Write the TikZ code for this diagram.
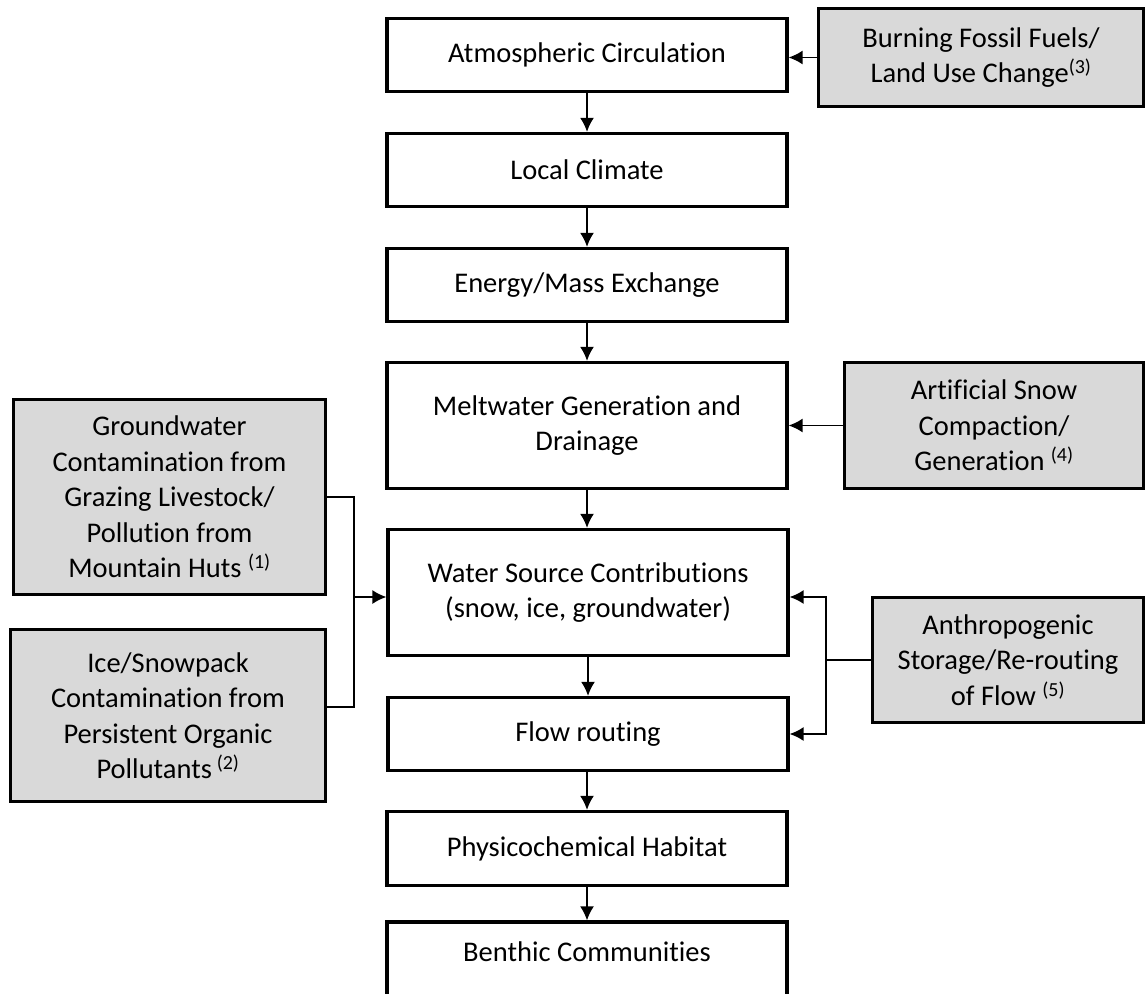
\documentclass[tikz,border=0pt]{standalone}
\usepackage{fontspec}
\setmainfont{Carlito}[Ligatures=NoCommon]
\usetikzlibrary{arrows.meta}

\begin{document}
\begin{tikzpicture}[x=1pt,y=-1pt,>={Latex[length=14pt,width=14pt]}]

	\tikzset{
	  box/.style={
		draw,
		line width=3.2pt,
		fill=white,
		align=center,
		inner sep=0pt,
		minimum width=400pt,
		minimum height=73pt,
		font=\fontsize{28.5}{35.5}\selectfont,
	  },
	  greybox/.style={
		box,
		fill=gray!30,
	  },
	  flowline/.style={line width=2pt,->},
	  sideline/.style={line width=1.6pt},
	}
	\useasboundingbox (0,0) rectangle (1147,993);
	\clip (0,0) rectangle (1147,993);
	\node[box] (atm) at (587,55) {Atmospheric Circulation};
	\node[box] (clim) at (587,170) {Local Climate};
	\node[box] (energy) at (587,285) {Energy/Mass Exchange};
	\node[box,minimum height=126pt] (melt) at (587,425.5) {Meltwater Generation and\\Drainage};
	\node[box,minimum height=126pt] (wsrc) at (588,592.5) {Water Source Contributions\\(snow, ice, groundwater)};
	\node[box] (flow) at (588,734) {Flow routing};
	\node[box,minimum height=74pt] (phys) at (587,848.5) {Physicochemical Habitat};
	\node[box,minimum height=76pt,text depth=16pt] (benth) at (587,960) {Benthic Communities};
	\node[greybox,minimum width=325pt,minimum height=98pt] (burn) at (981,57.5) {Burning Fossil Fuels/\\Land Use Change\textsuperscript{(3)}};
	\node[greybox,minimum width=299pt,minimum height=126pt] (art) at (994,425.5) {Artificial Snow\\Compaction/\\Generation \textsuperscript{(4)}};
	\node[greybox,minimum width=271pt,minimum height=125pt] (anth) at (1008,660) {Anthropogenic\\Storage/Re-routing\\of Flow \textsuperscript{(5)}};
	\node[greybox,minimum width=312pt,minimum height=195pt] (gw) at (169.5,497) {Groundwater\\Contamination from\\Grazing Livestock/\\Pollution from\\Mountain Huts \textsuperscript{(1)}};
	\node[greybox,minimum width=315pt,minimum height=172pt] (ice) at (168,715.5) {Ice/Snowpack\\Contamination from\\Persistent Organic\\Pollutants\,\textsuperscript{(2)}};
	\coordinate (gwjoin) at (354,597);
	\coordinate (anjoin) at (826,660);
	\draw[flowline] (atm) -- (clim);
	\draw[flowline] (clim) -- (energy);
	\draw[flowline] (energy) -- (melt);
	\draw[flowline] (melt) -- (melt.south |- wsrc.north);
	\draw[flowline] (wsrc) -- (flow);
	\draw[flowline] (flow.south -| phys) -- (phys);
	\draw[flowline] (phys) -- (benth);
	\draw[sideline,->] (burn.west) -- (burn.west -| atm.east);
	\draw[sideline,->] (art) -- (melt);
	\draw[sideline] (gw.east) -| (gwjoin) |- ([yshift=8.5pt]ice.east);
	\draw[sideline,->] (gwjoin) -- (gwjoin -| wsrc.west);
	\draw[sideline] (anth.west) -- (anjoin);
	\draw[sideline,->] (anjoin) |- ([yshift=-4.5pt]wsrc.east);
	\draw[sideline,->] (anjoin) |- (flow.east);

\end{tikzpicture}
\end{document}
